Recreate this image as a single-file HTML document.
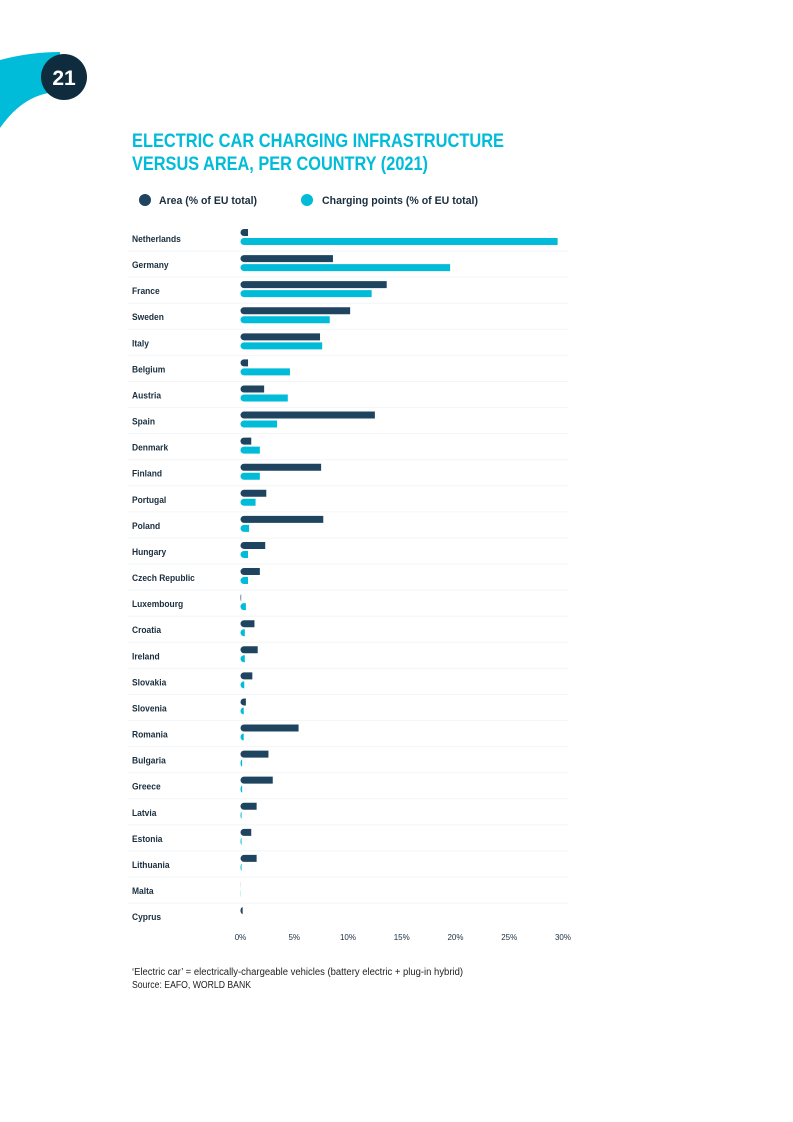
<!DOCTYPE html>
<html><head><meta charset="utf-8"><style>
body{margin:0;background:#fff;}
svg{display:block;font-family:"Liberation Sans",sans-serif;}
</style></head><body>
<svg width="793" height="1122" viewBox="0 0 793 1122">
<path d="M0 60 Q30 52 60 52 L60 92 Q25 92 0 128 Z" fill="#00bcd8"/>
<circle cx="64" cy="77" r="23" fill="#0f2c3f"/>
<text x="64" y="85" text-anchor="middle" fill="#fff" font-size="21" font-weight="bold">21</text>
<text x="132" y="147" fill="#00bcd8" font-size="19" font-weight="bold" textLength="372" lengthAdjust="spacingAndGlyphs">ELECTRIC CAR CHARGING INFRASTRUCTURE</text>
<text x="132" y="170" fill="#00bcd8" font-size="19" font-weight="bold" textLength="296" lengthAdjust="spacingAndGlyphs">VERSUS AREA, PER COUNTRY (2021)</text>
<g>
<circle cx="145" cy="200" r="6" fill="#1e4460"/>
<text x="159" y="204" font-size="11" font-weight="bold" fill="#1a2e3e" textLength="98" lengthAdjust="spacingAndGlyphs">Area (% of EU total)</text>
<circle cx="307" cy="200" r="6" fill="#00bcd8"/>
<text x="322" y="204" font-size="11" font-weight="bold" fill="#1a2e3e" textLength="156" lengthAdjust="spacingAndGlyphs">Charging points (% of EU total)</text>
</g>
<g id="chart"></g>
<text x="132" y="975" font-size="10" fill="#222" textLength="331" lengthAdjust="spacingAndGlyphs">‘Electric car’ = electrically-chargeable vehicles (battery electric + plug-in hybrid)</text>
<text x="132" y="988" font-size="10" fill="#222" textLength="119" lengthAdjust="spacingAndGlyphs">Source: EAFO, WORLD BANK</text>
</svg>
<script>
const countries=["Netherlands","Germany","France","Sweden","Italy","Belgium","Austria","Spain","Denmark","Finland","Portugal","Poland","Hungary","Czech Republic","Luxembourg","Croatia","Ireland","Slovakia","Slovenia","Romania","Bulgaria","Greece","Latvia","Estonia","Lithuania","Malta","Cyprus"];
const areaValues=[0.7,8.6,13.6,10.2,7.4,0.7,2.2,12.5,1.0,7.5,2.4,7.7,2.3,1.8,0.06,1.3,1.6,1.1,0.5,5.4,2.6,3.0,1.5,1.0,1.5,0.01,0.2];
const chargingValues=[29.5,19.5,12.2,8.3,7.6,4.6,4.4,3.4,1.8,1.8,1.4,0.8,0.7,0.7,0.5,0.4,0.4,0.35,0.3,0.3,0.15,0.15,0.1,0.1,0.1,0.02,0];
const tickValues=[0,5,10,15,20,25,30];
const tickLabels=["0%","5%","10%","15%","20%","25%","30%"];
const NS="http://www.w3.org/2000/svg";
const g=document.getElementById('chart');
const x0=240.5,pxPer=10.75,y0=238,pitch=26.08;
const xs=v=>x0+v*pxPer;
const ys=i=>y0+i*pitch;
function mk(t,a){const e=document.createElementNS(NS,t);for(const k in a)e.setAttribute(k,a[k]);g.appendChild(e);return e;}
function bar(x,y,w,c){const r=3.5;w=Math.max(w,0);if(w<=0)return null;
const d=w>=r?`M${x+r} ${y}H${x+w}V${y+7}H${x+r}A${r} ${r} 0 0 1 ${x+r} ${y}Z`:`M${x+w} ${y}A${w} ${r} 0 0 0 ${x+w} ${y+7}Z`;
return mk('path',{d:d,fill:c});}
countries.forEach((c,i)=>{
 const y=ys(i);
 if(i>0){const l=mk('line',{x1:128,x2:568,y1:y-13,y2:y-13,stroke:'#f3f5f6','stroke-width':1});
  
  }
 const t=mk('text',{x:132,y:y+4,'font-size':9,'font-weight':'bold',fill:'#1a2e3e',transform:`translate(132 0) scale(0.94 1) translate(-132 0)`});t.textContent=c;
 
 
 const a=bar(xs(0),y-9,xs(areaValues[i])-xs(0),'#1e4460');
 if(a){
 }
 const b=bar(xs(0),y,xs(chargingValues[i])-xs(0),'#00bcd8');
 if(b){
 }
});
tickValues.forEach((v,i)=>{
 const t=mk('text',{x:xs(v),y:940,'font-size':8,fill:'#1a2e3e','text-anchor':'middle'});t.textContent=tickLabels[i];
 
 
});
</script>
</body></html>
